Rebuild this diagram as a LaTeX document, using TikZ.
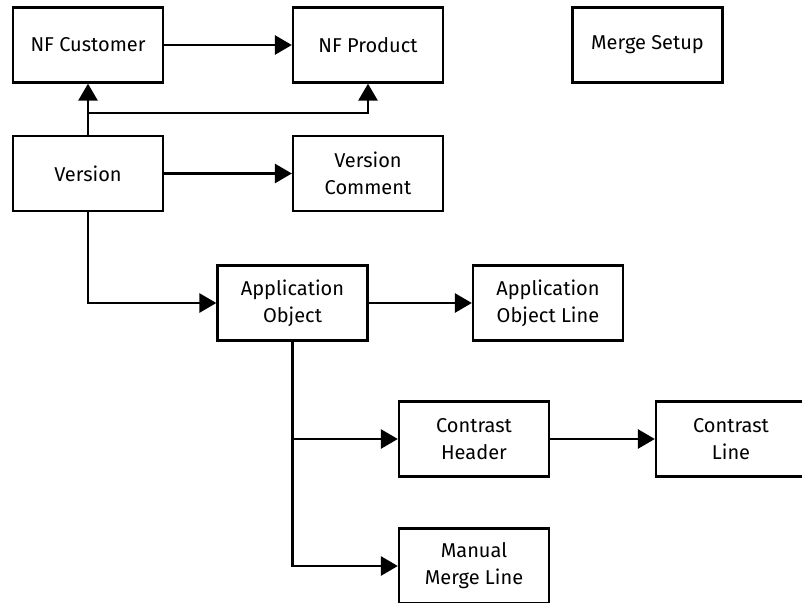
\documentclass[tikz,border=0pt]{standalone}
\usepackage{fontspec}
\setmainfont{Fira Sans}
\usepackage{tikz}
\usetikzlibrary{arrows.meta}

\begin{document}
\begin{tikzpicture}[x=1pt, y=-1pt,
        box/.style={draw, line width=2.3pt, minimum width=150pt, minimum height=75pt, align=center, inner sep=0pt, font=\fontsize{20}{27}\selectfont},
        link/.style={line width=2.8pt, -{Triangle[length=17pt, width=19pt]}}]
        \useasboundingbox (0, 0) rectangle (802, 602);
        \node[box] (NFC) at (88, 45) {NF Customer};
        \node[box] (NFP) at (368, 45) {NF Product};
        \node[box] (MS) at (647.5, 45) {Merge Setup};
        \node[box] (V) at (88, 173.5) {Version};
        \node[box] (VC) at (368, 173.5) {Version\\Comment};
        \node[box] (AO) at (292.5, 303) {Application\\Object};
        \node[box] (AOL) at (548, 303) {Application\\Object Line};
        \node[box] (CH) at (474, 439) {Contrast\\Header};
        \node[box] (CL) at (731, 439) {Contrast\\Line};
        \node[box] (MML) at (474, 566) {Manual\\Merge Line};
        \coordinate (J1) at (88, 113);
        \draw[link] (NFC) to (NFP);
        \draw[link] (V) to (NFC);
        \draw[link] (J1) -| (NFP.south);
        \draw[link] (V) to (VC);
        \draw[link] (V.south) |- (AO.west);
        \draw[link] (AO) to (AOL);
        \draw[link] (AO.south) |- (CH.west);
        \draw[link] (AO.south) |- (MML.west);
        \draw[link] (CH) to (CL);
    \end{tikzpicture}
\end{document}
